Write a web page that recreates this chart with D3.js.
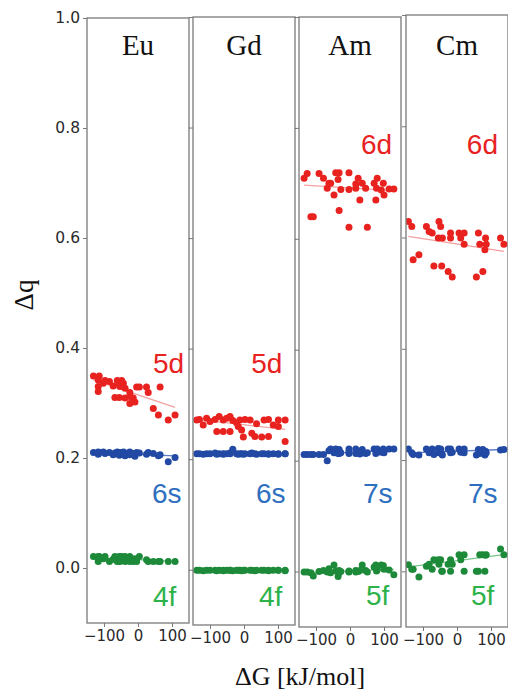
<!DOCTYPE html>
<html><head><meta charset="utf-8">
<script src="https://cdn.jsdelivr.net/npm/d3@7"></script>
<style>body{margin:0;background:#fff}svg{display:block}</style>
</head><body>
<script>
// ---------- DATA ----------
const elements = ["Eu", "Gd", "Am", "Cm"];
const orbitalNames = [["5d","6s","4f"],["5d","6s","4f"],["6d","7s","5f"],["6d","7s","5f"]];
const xTicks = [-100, 0, 100];
const yTicks = [0.0, 0.2, 0.4, 0.6, 0.8, 1.0];

// ΔG values (kJ/mol) per element
const euDG = [-131,-117,-117,-117,-114,-102,-97,-84,-73,-68,-61,-55,-55,-53,-48,-43,-38,-38,-24,-24,-24,-14,-9,-4,4,25,30,45,60,65,89,109];
const euD  = [0.349,0.342,0.330,0.321,0.349,0.336,0.341,0.339,0.331,0.310,0.341,0.333,0.310,0.330,0.341,0.336,0.327,0.309,0.319,0.312,0.299,0.309,0.302,0.329,0.329,0.329,0.319,0.290,0.278,0.329,0.269,0.278];
const euS  = [0.210,0.209,0.211,0.207,0.210,0.211,0.208,0.210,0.206,0.209,0.211,0.205,0.209,0.210,0.207,0.211,0.204,0.209,0.210,0.206,0.211,0.208,0.203,0.210,0.209,0.207,0.210,0.208,0.204,0.206,0.193,0.201];
const euF  = [0.021,0.021,0.012,0.016,0.021,0.017,0.021,0.012,0.016,0.021,0.012,0.017,0.021,0.012,0.021,0.016,0.012,0.021,0.018,0.012,0.021,0.012,0.017,0.012,0.021,0.015,0.012,0.012,0.012,0.012,0.012,0.012];

const gdDG = [-139,-131,-120,-110,-100,-85,-80,-73,-61,-61,-51,-41,-41,-33,-22,-17,-12,-7,-2,3,18,23,32,37,52,59,72,72,86,101,101,121,121];
const gdD  = [0.271,0.272,0.262,0.274,0.268,0.272,0.250,0.277,0.271,0.250,0.274,0.277,0.250,0.270,0.266,0.259,0.271,0.253,0.240,0.272,0.271,0.247,0.241,0.264,0.240,0.271,0.272,0.241,0.262,0.271,0.259,0.271,0.232];
const gdS  = [0.210,0.210,0.209,0.210,0.210,0.211,0.209,0.210,0.210,0.209,0.210,0.211,0.210,0.218,0.210,0.209,0.210,0.210,0.209,0.210,0.210,0.211,0.210,0.209,0.210,0.210,0.209,0.210,0.210,0.210,0.209,0.210,0.210];
const gdF  = [-0.001,-0.001,-0.002,-0.001,-0.001,-0.001,-0.002,-0.001,-0.001,-0.002,-0.001,-0.001,-0.001,-0.002,-0.001,-0.001,-0.001,-0.002,-0.001,-0.001,-0.001,-0.001,-0.002,-0.001,-0.001,-0.001,-0.001,-0.002,-0.001,-0.001,-0.001,-0.001,-0.002];

const amDG = [-135,-126,-115,-108,-91,-78,-67,-62,-57,-47,-42,-35,-32,-32,-27,-3,-3,-3,17,17,24,29,36,46,51,71,76,78,80,92,98,100,115,129];
const amD  = [0.709,0.718,0.640,0.640,0.718,0.709,0.691,0.700,0.700,0.679,0.719,0.707,0.719,0.651,0.689,0.719,0.689,0.621,0.691,0.699,0.709,0.670,0.700,0.691,0.621,0.700,0.670,0.691,0.709,0.688,0.700,0.679,0.690,0.690];
const amS  = [0.211,0.211,0.211,0.211,0.211,0.211,0.200,0.218,0.221,0.214,0.221,0.213,0.220,0.213,0.214,0.221,0.213,0.216,0.221,0.213,0.214,0.212,0.220,0.213,0.214,0.221,0.213,0.216,0.221,0.215,0.221,0.214,0.221,0.221];
const amF  = [-0.001,-0.001,-0.002,-0.008,0.000,0.002,-0.001,0.005,-0.002,0.012,0.001,-0.009,0.002,-0.002,0.000,-0.001,0.001,0.000,0.002,-0.001,0.000,0.002,0.012,0.002,-0.001,0.008,0.012,0.001,0.003,0.012,0.011,0.004,0.003,-0.006];

const cmDG = [-143,-133,-129,-112,-90,-82,-73,-68,-55,-53,-48,-45,-43,-26,-19,-19,-14,6,11,21,21,57,63,67,76,82,84,86,128,138];
const cmD  = [0.629,0.620,0.560,0.569,0.620,0.611,0.608,0.549,0.599,0.629,0.620,0.549,0.599,0.539,0.608,0.599,0.529,0.608,0.599,0.608,0.588,0.529,0.608,0.588,0.539,0.578,0.599,0.588,0.599,0.588];
const cmS  = [0.220,0.213,0.210,0.209,0.220,0.213,0.220,0.210,0.221,0.213,0.220,0.212,0.209,0.220,0.213,0.220,0.214,0.220,0.214,0.220,0.213,0.209,0.219,0.212,0.219,0.209,0.216,0.213,0.218,0.219];
const cmF  = [0.012,0.004,0.004,-0.010,0.009,0.013,0.004,0.021,0.021,0.013,0.021,0.000,0.000,0.013,0.000,0.021,0.013,0.030,0.021,0.030,0.000,0.000,0.000,0.030,0.030,0.000,0.029,0.030,0.040,0.030];

// trend lines: [[x0,y0],[x1,y1]] per element, order d, s, f
const euTrend = [[[-131,0.342],[109,0.292]], [[-131,0.210],[109,0.204]], [[-131,0.019],[109,0.012]]];
const gdTrend = [[[-139,0.272],[121,0.254]], [[-139,0.210],[121,0.210]], [[-139,-0.001],[121,-0.001]]];
const amTrend = [[[-135,0.697],[129,0.687]], [[-135,0.211],[129,0.219]], [[-135,-0.002],[129,0.004]]];
const cmTrend = [[[-143,0.602],[138,0.575]], [[-143,0.213],[138,0.219]], [[-143,0.008],[138,0.030]]];

// label anchor positions in data coords (left, baseline), order d, s, f
const euLab = [[44,0.355],[41,0.118],[44,-0.069]];
const gdLab = [[21,0.356],[35,0.121],[44,-0.066]];
const amLab = [[32,0.753],[38,0.124],[47,-0.060]];
const cmLab = [[29,0.750],[32,0.123],[41,-0.060]];

// ---------- LAYOUT ----------
const W = 508, H = 692;
const frames = [
  {left:87,  width:102, top:18, bottom:623},
  {left:193, width:102, top:17, bottom:625},
  {left:299, width:102, top:17, bottom:627},
  {left:406, width:102, top:15, bottom:627}
];
const dots = ["#e8221f", "#2249a3", "#1d8a3a"];
const lineCols = ["#f3a0a0", "#5b7cc9", "#78c58a"];
const textCols = ["#e8221f", "#2e6fc0", "#2db24a"];

const panelData = [
  {x:euDG, ys:[euD,euS,euF], trend:euTrend, lab:euLab},
  {x:gdDG, ys:[gdD,gdS,gdF], trend:gdTrend, lab:gdLab},
  {x:amDG, ys:[amD,amS,amF], trend:amTrend, lab:amLab},
  {x:cmDG, ys:[cmD,cmS,cmF], trend:cmTrend, lab:cmLab}
];

const svg = d3.select("body").append("svg").attr("width", W).attr("height", H);

elements.forEach((el, i) => {
  const f = frames[i];
  const pd = panelData[i];
  const x = d3.scaleLinear().domain([-150, 150]).range([f.left, f.left + f.width]);
  const y = d3.scaleLinear().domain([-0.1, 1.0]).range([f.bottom, f.top]);
  const g = svg.append("g");
  const clipId = "clip" + i;
  svg.append("clipPath").attr("id", clipId).append("rect")
    .attr("x", f.left).attr("y", f.top).attr("width", f.width).attr("height", f.bottom - f.top);

  // y axis
  const ya = g.append("g").attr("transform", `translate(${f.left},0)`)
    .call(d3.axisLeft(y).tickValues(yTicks).tickSize(4).tickPadding(3)
      .tickFormat(i === 0 ? d3.format(".1f") : () => ""));
  ya.select(".domain").remove();
  ya.selectAll(".tick line").attr("stroke", "#555").attr("stroke-width", 0.8);
  ya.selectAll("text").attr("font-family", "DejaVu Sans").attr("font-size", 15.5).attr("fill", "#2a2a2a");

  // x axis
  const xa = g.append("g").attr("transform", `translate(0,${f.bottom})`)
    .call(d3.axisBottom(x).tickValues(xTicks).tickSize(4).tickPadding(3)
      .tickFormat(d => d < 0 ? "\u2212" + Math.abs(d) : String(d)));
  xa.select(".domain").remove();
  xa.selectAll(".tick line").attr("stroke", "#555").attr("stroke-width", 0.8);
  xa.selectAll("text").attr("font-family", "DejaVu Sans").attr("font-size", 15).attr("fill", "#2a2a2a");

  const plot = g.append("g").attr("clip-path", `url(#${clipId})`);
  // trend lines
  pd.trend.forEach((t, k) => {
    plot.append("line")
      .attr("x1", x(t[0][0])).attr("y1", y(t[0][1]))
      .attr("x2", x(t[1][0])).attr("y2", y(t[1][1]))
      .attr("stroke", lineCols[k]).attr("stroke-width", 1.3);
  });
  // points
  [2,1,0].forEach(k => {
    plot.append("g").selectAll("circle")
      .data(pd.x.map((v, j) => [v, pd.ys[k][j]]))
      .join("circle")
      .attr("cx", d => x(d[0])).attr("cy", d => y(d[1]))
      .attr("r", 3.5).attr("fill", dots[k]);
  });
  // orbital labels
  pd.lab.forEach((p, k) => {
    g.append("text").attr("x", x(p[0])).attr("y", y(p[1]))
      .attr("font-family", "Liberation Sans, Arial, sans-serif").attr("font-size", 28)
      .attr("fill", textCols[k]).text(orbitalNames[i][k]);
  });
  // title
  g.append("text").attr("x", f.left + f.width / 2).attr("y", 55)
    .attr("text-anchor", "middle").attr("font-family", "Liberation Serif, Times New Roman, serif")
    .attr("font-size", 29).attr("fill", "#111").text(el);

  // frame
  g.append("rect").attr("x", f.left).attr("y", f.top).attr("width", f.width).attr("height", f.bottom - f.top)
    .attr("fill", "none").attr("stroke", "#7a7a7a").attr("stroke-width", 1.3);
});

// axis titles
svg.append("text").attr("transform", "translate(33,295) rotate(-90)")
  .attr("text-anchor", "middle").attr("font-family", "Liberation Serif, Times New Roman, serif")
  .attr("font-size", 27).attr("fill", "#111").text("\u0394q");
svg.append("text").attr("x", 300).attr("y", 685)
  .attr("text-anchor", "middle").attr("font-family", "Liberation Serif, Times New Roman, serif")
  .attr("font-size", 26).attr("fill", "#111").text("\u0394G [kJ/mol]");
</script>
</body></html>
